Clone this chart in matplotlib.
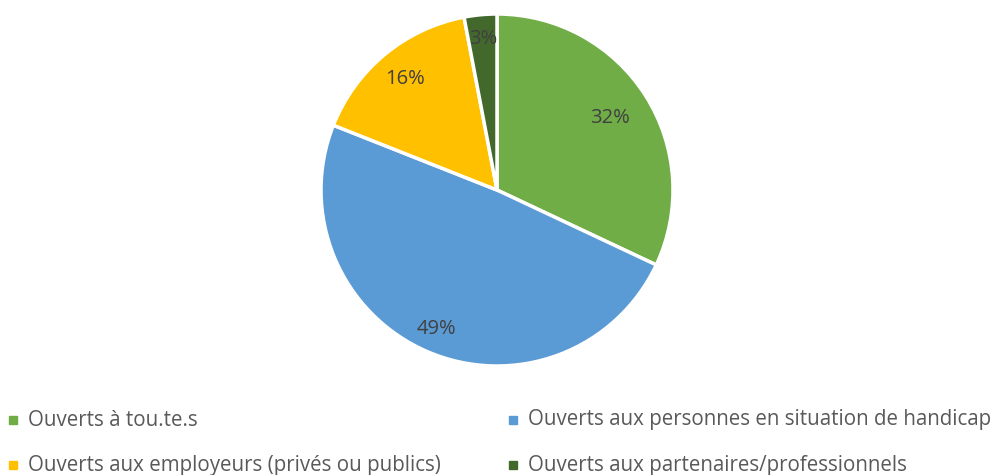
import numpy as np
import matplotlib
matplotlib.use("Agg")
import matplotlib.pyplot as plt

categories = ["Ouverts à tou.te.s",
              "Ouverts aux personnes en situation de handicap",
              "Ouverts aux employeurs (privés ou publics)",
              "Ouverts aux partenaires/professionnels"]
values = [32, 49, 16, 3]
colors = ["#70AD47", "#5B9BD5", "#FFC000", "#43682B"]
label_dist = [0.76, 0.86, 0.82, 0.86]

plt.rcParams['font.family'] = ['Open Sans', 'DejaVu Sans']
W, H = 997, 475
fig = plt.figure(figsize=(W/100, H/100), dpi=100)
cx, cy, r = 497, 190, 176
ax = fig.add_axes([(cx - r)/W, (H - cy - r)/H, 2*r/W, 2*r/H])
wedges, _ = ax.pie(values, colors=colors, startangle=90, counterclock=False,
                   radius=1, wedgeprops=dict(edgecolor="white", linewidth=2.5))
ax.set_xlim(-1, 1); ax.set_ylim(-1, 1)
ax.set_aspect('equal')
ax.axis('off')
for w, v, d in zip(wedges, values, label_dist):
    ang = np.deg2rad((w.theta1 + w.theta2) / 2)
    ax.text(d*np.cos(ang), d*np.sin(ang), f"{v}%", ha="center", va="center",
            fontsize=14.5, color="#404040")

txt = "#595959"
pos = [(13, 420), (513, 420), (13, 465), (513, 465)]
for (x, y), c, lab in zip(pos, colors, categories):
    fig.patches.append(plt.Rectangle(((x - 4)/W, (H - y - 4)/H), 8/W, 8/H,
                                     transform=fig.transFigure, color=c, figure=fig))
    fig.text((x + 15)/W, (H - y)/H, lab, ha="left", va="center", fontsize=14.8, color=txt)

fig.savefig("out.png", dpi=100)
